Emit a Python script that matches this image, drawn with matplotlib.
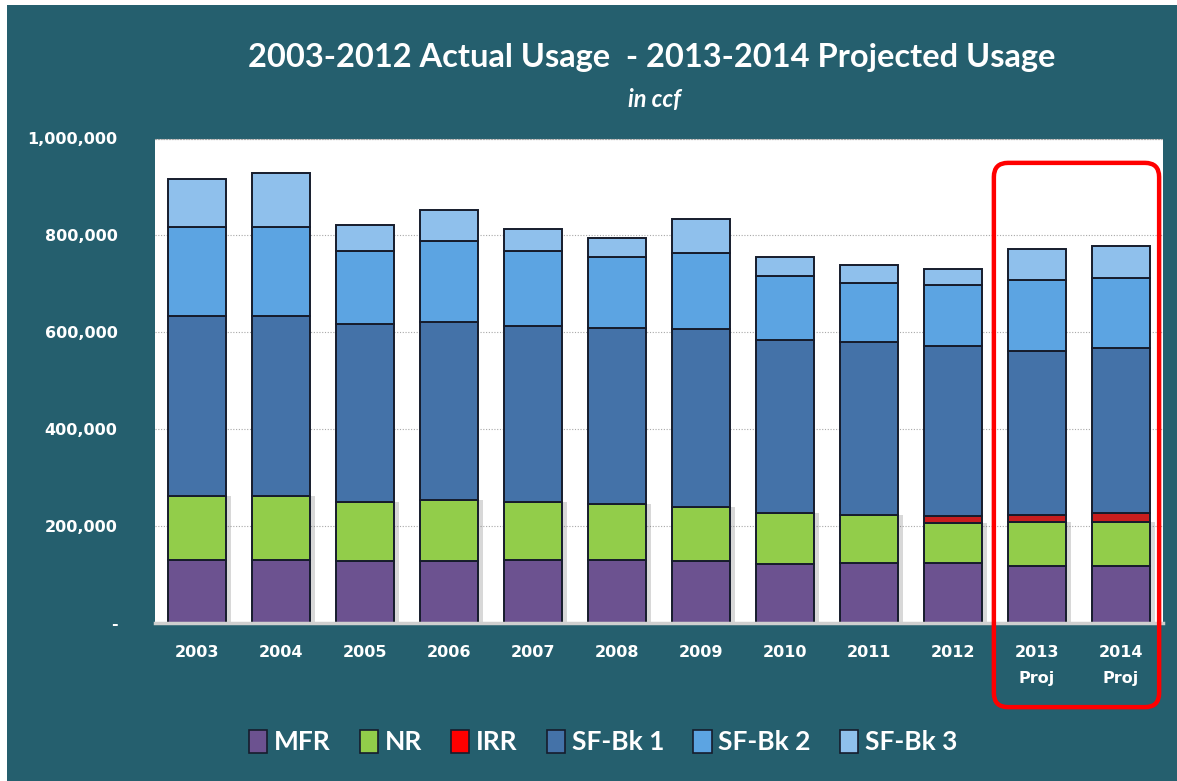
import numpy as np
import matplotlib.pyplot as plt
from matplotlib.patches import Rectangle, FancyBboxPatch
from matplotlib.ticker import FuncFormatter
import matplotlib.patheffects as pe

# usage by customer class, in ccf
years = ['2003', '2004', '2005', '2006', '2007', '2008', '2009', '2010',
         '2011', '2012', '2013\nProj', '2014\nProj']
mfr = [129000, 129000, 127000, 127000, 129000, 129000, 127000, 120000,
       123000, 123000, 117000, 117000]
nr = [133000, 133000, 121000, 127000, 119000, 116000, 112000, 106000,
      100000, 82000, 91000, 91000]
irr = [0, 0, 0, 0, 0, 0, 0, 0, 0, 15000, 15000, 19000]
sf_bk1 = [371000, 371000, 368000, 367000, 364000, 364000, 367000, 357000,
          356000, 352000, 337000, 340000]
sf_bk2 = [184000, 184000, 152000, 168000, 155000, 146000, 158000, 132000,
          123000, 125000, 148000, 144000]
sf_bk3 = [99000, 112000, 53000, 64000, 46000, 39000, 69000, 40000,
          36000, 34000, 63000, 66000]

series = [('MFR', mfr, '#6C5290'),
          ('NR', nr, '#92CD4A'),
          ('IRR', irr, '#C81E1E'),
          ('SF-Bk 1', sf_bk1, '#4472A8'),
          ('SF-Bk 2', sf_bk2, '#5CA4E2'),
          ('SF-Bk 3', sf_bk3, '#8FC0EC')]
legend_colors = ['#6C5290', '#92CD4A', '#FF0000', '#4472A8', '#5CA4E2', '#8FC0EC']

teal = '#255F6E'
W, H = 1177, 781

fig = plt.figure(figsize=(W / 100, H / 100), dpi=100, facecolor='white')
fig.patches.append(Rectangle((7 / W, 0), 1, 1 - 5 / H, transform=fig.transFigure,
                             facecolor=teal, edgecolor='none', zorder=-10))

ax = fig.add_axes([155 / W, (H - 622.5) / H, 1008 / W, 484 / H])
ax.set_facecolor('white')

x = np.arange(len(years))
bottom = np.zeros(len(years))
for name, vals, color in series:
    vals = np.array(vals, dtype=float)
    bars = ax.bar(x, vals, 0.7, bottom=bottom, color=color, edgecolor='#161C2C',
                  linewidth=1.4, zorder=3)
    if name in ('MFR', 'NR'):
        # soft drop shadow on the lower segments
        for b in bars:
            b.set_path_effects([pe.SimplePatchShadow(offset=(3, 0), shadow_rgbFace='#666666',
                                                     alpha=0.25), pe.Normal()])
    bottom += vals

ax.set_xlim(-0.5, len(years) - 0.5)
ax.set_ylim(0, 1000000)
ax.set_yticks(np.arange(0, 1000001, 200000))
ax.yaxis.set_major_formatter(FuncFormatter(lambda v, p: '-' if v == 0 else f'{v:,.0f}'))
ax.set_xticks(x)
ax.set_xticklabels(years, linespacing=1.9)
ax.tick_params(axis='y', length=0, pad=27, labelsize=11.5, labelcolor='white')
ax.tick_params(axis='x', length=0, pad=16, labelsize=11.5, labelcolor='white')
for lab in ax.get_xticklabels() + ax.get_yticklabels():
    lab.set_fontweight('bold')

ax.grid(axis='y', color='#A8A8A8', linestyle=(0, (1, 1.5)), linewidth=0.8, zorder=0)
for s in ('left', 'right'):
    ax.spines[s].set_visible(False)
ax.spines['top'].set_color('#A8A8A8')
ax.spines['top'].set_linestyle((0, (1, 1.5)))
ax.spines['top'].set_linewidth(0.8)
ax.spines['bottom'].set_color('#CFCFCF')
ax.spines['bottom'].set_linewidth(2.5)
ax.spines['bottom'].set_zorder(4)

fig.text(652 / W, 1 - 58 / H, '2003-2012 Actual Usage  - 2013-2014 Projected Usage',
         ha='center', va='center', color='white', fontsize=23.5, fontweight='bold',
         family='Lato')
fig.text(654 / W, 1 - 100 / H, 'in ccf', ha='center', va='center', color='white',
         fontsize=17, fontweight='bold', style='italic', family='Lato')

# highlight box round the projected years
fig.patches.append(FancyBboxPatch((1008 / W, 1 - 693 / H), 137 / W, 516 / H,
                                  boxstyle='round,pad=0.012', transform=fig.transFigure,
                                  facecolor='none', edgecolor='#FF0000', linewidth=3.2,
                                  mutation_aspect=W / H, zorder=10))

# legend
handles = [Rectangle((0, 0), 1, 1, facecolor=c, edgecolor='#161C2C', linewidth=1.2)
           for c in legend_colors]
leg = fig.legend(handles, [s[0] for s in series], loc='center', ncol=6,
                 bbox_to_anchor=(603 / W, 1 - 742 / H), frameon=False,
                 handlelength=0.7, handleheight=1.0, handletextpad=0.25,
                 columnspacing=1.1, prop={'family': 'Lato', 'weight': 'bold', 'size': 19})
for t in leg.get_texts():
    t.set_color('white')

fig.savefig('out.png', dpi=100, facecolor=fig.get_facecolor())
